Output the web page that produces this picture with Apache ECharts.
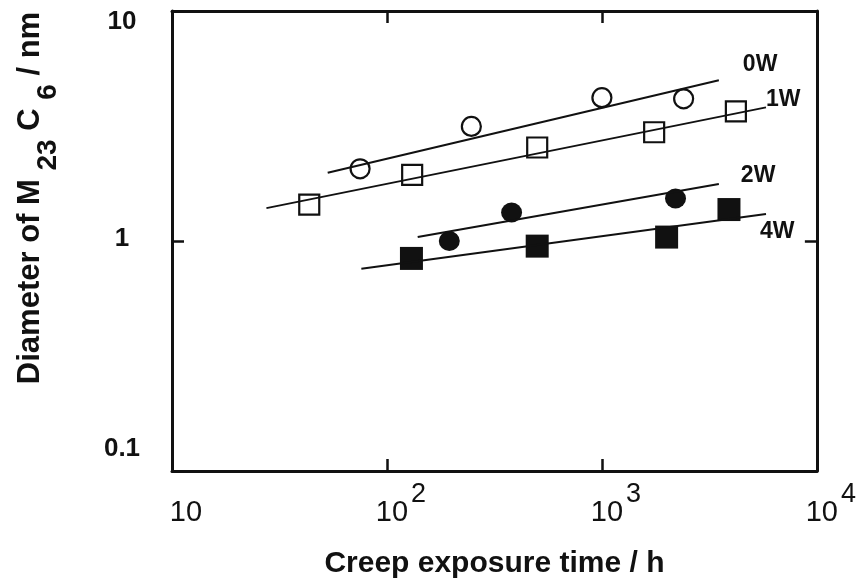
<!DOCTYPE html>
<html>
<head>
<meta charset="utf-8">
<script src="https://cdn.jsdelivr.net/npm/echarts@6/dist/echarts.min.js"></script>
<style>
html,body{margin:0;padding:0;background:#fff;}
#chart{width:859px;height:584px;}
</style>
</head>
<body>
<div id="chart"></div>
<script>
// ---- data ----
const seriesNames = ['0W', '1W', '2W', '4W'];

// measured points: creep exposure time (h) and diameter (nm)
const time0W = [75, 247, 1000, 2400];
const diam0W = [2.06, 3.15, 4.2, 4.15];
const time1W = [43.5, 131, 500, 1750, 4200];
const diam1W = [1.44, 1.94, 2.55, 2.97, 3.66];
const time2W = [195, 380, 2200];
const diam2W = [1.0, 1.33, 1.53];
const time4W = [130, 500, 2000, 3900];
const diam4W = [0.84, 0.95, 1.04, 1.37];

// fitted lines (start / end)
const fitTime0W = [53, 3500];
const fitDiam0W = [1.98, 5.0];
const fitTime1W = [27.5, 5800];
const fitDiam1W = [1.39, 3.81];
const fitTime2W = [139, 3500];
const fitDiam2W = [1.04, 1.77];
const fitTime4W = [76, 5800];
const fitDiam4W = [0.757, 1.31];

// tick labels
const xTickValues = [10, 100, 1000, 10000];
const xTickBase = ['10', '10', '10', '10'];
const xTickExp = ['', '2', '3', '4'];
const yTickValues = [0.1, 1, 10];
const yTickText = ['0.1', '1', '10'];

const xTitle = 'Creep exposure time / h';

// ---- build ----
const zip = (a, b) => a.map((v, i) => [v, b[i]]);
const FONT = "'Liberation Sans', Arial, sans-serif";
const INK = '#111111';

const chart = echarts.init(document.getElementById('chart'), null, {renderer: 'canvas'});

const frameLine = {show: true, onZero: false, lineStyle: {color: INK, width: 3}};
const tickIn = {show: true, inside: true, length: 12, lineStyle: {color: INK, width: 2.5}};

function xLabel(v) {
  const i = xTickValues.findIndex(t => Math.abs(Math.log10(t) - Math.log10(v)) < 1e-6);
  if (i < 0) return '';
  return xTickExp[i] ? '{b|' + xTickBase[i] + '}{s|' + xTickExp[i] + '}' : '{b|' + xTickBase[i] + '}{e|}';
}
function yLabel(v) {
  const i = yTickValues.findIndex(t => Math.abs(Math.log10(t) - Math.log10(v)) < 1e-6);
  if (i < 0) return '';
  const style = ['bot', 'mid', 'top'][i];
  return '{' + style + '|' + yTickText[i] + '}';
}

const fitOffsets = [[24, -16], [0, -8], [22, -8], [-6, 18]];
const fitTimes = [fitTime0W, fitTime1W, fitTime2W, fitTime4W];
const fitDiams = [fitDiam0W, fitDiam1W, fitDiam2W, fitDiam4W];

const lineSeries = seriesNames.map((n, i) => ({
  name: n,
  type: 'line',
  data: zip(fitTimes[i], fitDiams[i]),
  showSymbol: false,
  symbol: 'none',
  silent: true,
  z: 5,
  lineStyle: {color: INK, width: 2, opacity: 1},
  endLabel: {
    show: true, formatter: '{a}', distance: 0, offset: fitOffsets[i],
    color: INK, fontFamily: FONT, fontWeight: 'bold', fontSize: 23
  }
}));

const markerSeries = [
  {name: '0W pts', type: 'scatter', data: zip(time0W, diam0W), symbol: 'circle', symbolSize: [19, 19],
   itemStyle: {color: '#fff', borderColor: INK, borderWidth: 2.2, opacity: 1}, z: 3},
  {name: '1W pts', type: 'scatter', data: zip(time1W, diam1W), symbol: 'rect', symbolSize: [20, 20],
   itemStyle: {color: '#fff', borderColor: INK, borderWidth: 2.2, opacity: 1}, z: 3},
  {name: '2W pts', type: 'scatter', data: zip(time2W, diam2W), symbol: 'circle', symbolSize: [21, 20],
   itemStyle: {color: INK, opacity: 1}, z: 3},
  {name: '4W pts', type: 'scatter', data: zip(time4W, diam4W), symbol: 'rect', symbolSize: [23, 23],
   itemStyle: {color: INK, opacity: 1}, z: 3}
];

const option = {
  backgroundColor: '#fff',
  animation: false,
  grid: {left: 172, right: 41, top: 11, bottom: 112, containLabel: false},
  xAxis: [
    {
      type: 'log', logBase: 10, min: 10, max: 10000, position: 'bottom',
      name: xTitle, nameLocation: 'middle', nameGap: 78,
      nameTextStyle: {color: INK, fontFamily: FONT, fontWeight: 'bold', fontSize: 30},
      axisLine: frameLine, axisTick: tickIn, minorTick: {show: false},
      splitLine: {show: false},
      axisLabel: {
        show: true, margin: 10, showMinLabel: true, showMaxLabel: true,
        formatter: xLabel,
        rich: {
          b: {color: INK, fontFamily: FONT, fontSize: 29, padding: [14, 0, 0, 28]},
          s: {color: INK, fontFamily: FONT, fontSize: 27, padding: [0, 0, 22, 3]},
          e: {fontSize: 27, padding: [0, 0, 22, 0]}
        }
      }
    },
    {
      type: 'log', logBase: 10, min: 10, max: 10000, position: 'top',
      axisLine: frameLine, axisTick: tickIn, axisLabel: {show: false}, splitLine: {show: false}
    }
  ],
  yAxis: [
    {
      type: 'log', logBase: 10, min: 0.1, max: 10, position: 'left',
      name: '{a|Diameter of M }{s|23}{a| C }{s|6}{a| / nm}',
      nameLocation: 'middle', nameGap: 108, nameRotate: 90,
      nameTextStyle: {
        padding: [0, 0, 0, 86],
        rich: {
          a: {color: INK, fontFamily: FONT, fontWeight: 'bold', fontSize: 31, padding: [0, 0, 18, 0]},
          s: {color: INK, fontFamily: FONT, fontWeight: 'bold', fontSize: 28, padding: [18, 0, 0, 0]}
        }
      },
      axisLine: frameLine, axisTick: tickIn, minorTick: {show: false},
      splitLine: {show: false},
      axisLabel: {
        show: true, margin: 50, align: 'center', showMinLabel: true, showMaxLabel: true,
        formatter: yLabel,
        rich: {
          top: {color: INK, fontFamily: FONT, fontWeight: 'bold', fontSize: 26, padding: [22, 0, 0, 0]},
          mid: {color: INK, fontFamily: FONT, fontWeight: 'bold', fontSize: 26, padding: [0, 0, 4, 0]},
          bot: {color: INK, fontFamily: FONT, fontWeight: 'bold', fontSize: 26, padding: [0, 0, 44, 0]}
        }
      }
    },
    {
      type: 'log', logBase: 10, min: 0.1, max: 10, position: 'right',
      axisLine: frameLine, axisTick: tickIn, axisLabel: {show: false}, splitLine: {show: false}
    }
  ],
  series: markerSeries.concat(lineSeries)
};

chart.setOption(option);
</script>
</body>
</html>
